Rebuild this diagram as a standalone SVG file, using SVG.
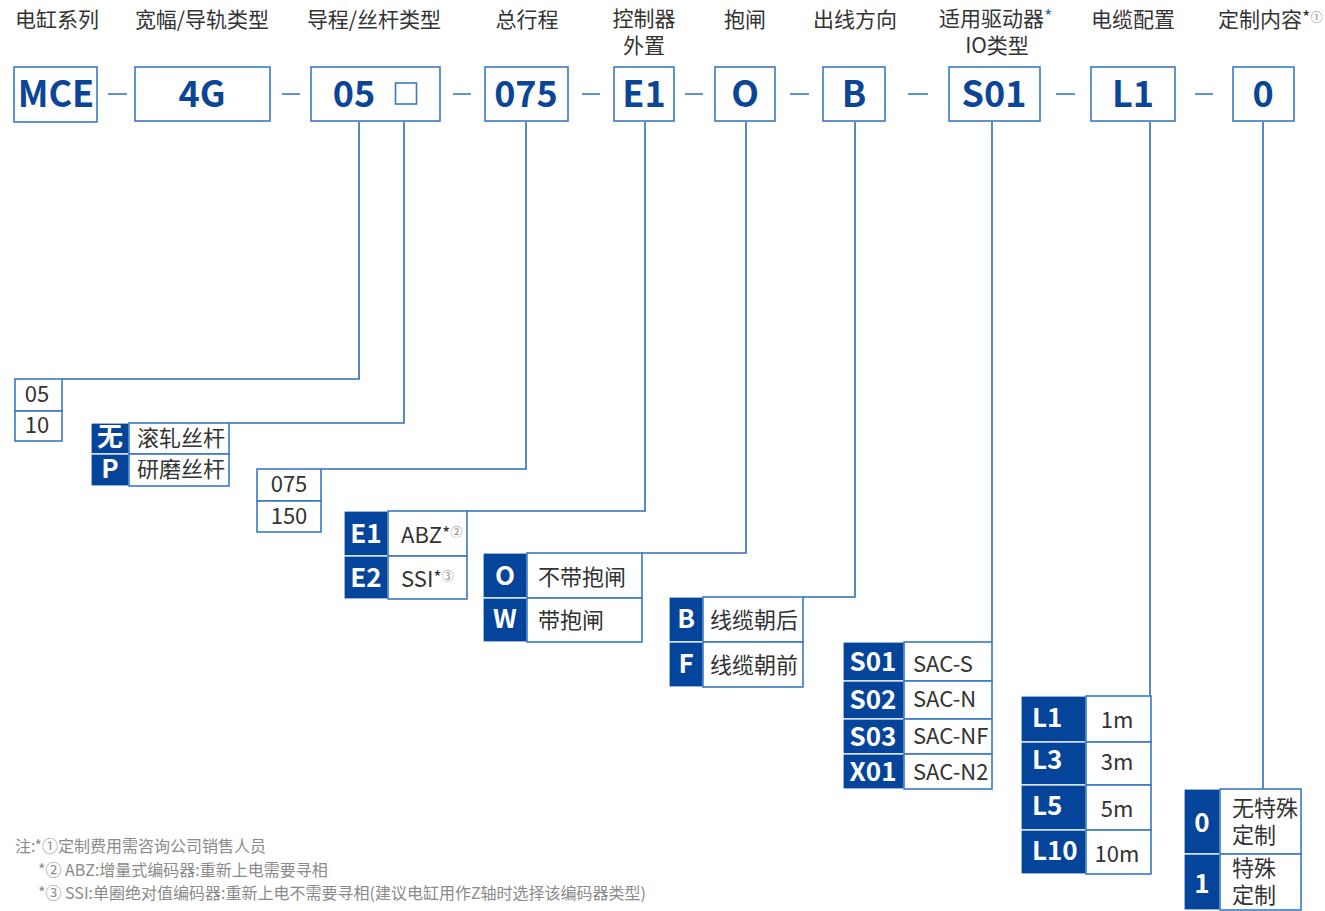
<svg xmlns="http://www.w3.org/2000/svg" width="1325" height="911" viewBox="0 0 1325 911">
<style>
text{font-family:"Noto Sans CJK SC","Noto Sans",sans-serif}
.hdr{font-size:21px;fill:#333;text-anchor:middle}
.box{fill:#fff;stroke:#3b78c6;stroke-width:1.6}
.code{font-size:36px;font-weight:700;fill:#0b4596;text-anchor:middle}
.dash{stroke:#3b78c6;stroke-width:1.6}
.conn{fill:none;stroke:#2f6cb8;stroke-width:1.6}
.cell{fill:#fff;stroke:#3b78c6;stroke-width:1.6}
.dk{fill:#04449a;stroke:#fff;stroke-width:1.2}
.dt{font-size:26px;font-weight:700;fill:#fff;text-anchor:middle}
.wt{font-size:22px;fill:#333}
.wc{font-size:22px;fill:#333;text-anchor:middle}
.sup{font-size:12px;fill:#888}
.star{font-size:18px;fill:#333}
.note{font-size:16px;fill:#8a8a8a}
</style>
<rect width="1325" height="911" fill="#fff"/>

<g id="headers">
<text class="hdr" x="57" y="27">电缸系列</text>
<text class="hdr" x="202" y="27">宽幅/导轨类型</text>
<text class="hdr" x="374" y="27">导程/丝杆类型</text>
<text class="hdr" x="527" y="27">总行程</text>
<text class="hdr" x="644" y="26">控制器</text>
<text class="hdr" x="644" y="53">外置</text>
<text class="hdr" x="745" y="27">抱闸</text>
<text class="hdr" x="855" y="27">出线方向</text>
<text class="hdr" x="939" y="26" style="text-anchor:start">适用驱动器<tspan fill="#2f6cb8" font-size="18" dy="-3">*</tspan></text>
<text class="hdr" x="997" y="53">IO类型</text>
<text class="hdr" x="1133" y="27">电缆配置</text>
<text class="hdr" x="1218" y="27" style="text-anchor:start">定制内容<tspan font-size="18" dy="-3">*</tspan><tspan class="sup" font-size="11" dy="-2">①</tspan></text>
</g>

<g id="dashes">
<line class="dash" x1="108" y1="94" x2="127" y2="94"/>
<line class="dash" x1="282" y1="94" x2="300" y2="94"/>
<line class="dash" x1="453" y1="94" x2="471" y2="94"/>
<line class="dash" x1="582" y1="94" x2="600" y2="94"/>
<line class="dash" x1="685" y1="94" x2="703" y2="94"/>
<line class="dash" x1="790" y1="94" x2="809" y2="94"/>
<line class="dash" x1="908" y1="94" x2="928" y2="94"/>
<line class="dash" x1="1056" y1="94" x2="1075" y2="94"/>
<line class="dash" x1="1195" y1="94" x2="1213" y2="94"/>
</g>

<g id="connectors">
<path class="conn" d="M359 122V379H62"/>
<path class="conn" d="M404 122V423H229"/>
<path class="conn" d="M526 122V469H321"/>
<path class="conn" d="M645 122V511H467"/>
<path class="conn" d="M746 122V553H642"/>
<path class="conn" d="M855 122V597H803"/>
<path class="conn" d="M992 122V642"/>
<path class="conn" d="M1150 122V696"/>
<path class="conn" d="M1263 122V789"/>
</g>

<g id="n-mce"><rect class="box" x="14" y="67" width="83" height="55"/><text class="code" x="56" y="107">MCE</text></g>
<g id="n-4g"><rect class="box" x="135" y="67" width="135" height="54"/><text class="code" x="202" y="107">4G</text></g>
<g id="n-05"><rect class="box" x="311" y="67" width="129" height="54"/><text class="code" x="354" y="107">05</text><rect x="395.5" y="83" width="21" height="21" fill="none" stroke="#3b78c6" stroke-width="1.6"/></g>
<g id="n-075"><rect class="box" x="485" y="67" width="83" height="54"/><text class="code" x="526" y="107">075</text></g>
<g id="n-e1"><rect class="box" x="614" y="67" width="60" height="54"/><text class="code" x="644" y="107">E1</text></g>
<g id="n-o"><rect class="box" x="715" y="67" width="60" height="54"/><text class="code" x="745" y="107">O</text></g>
<g id="n-b"><rect class="box" x="823" y="67" width="62" height="54"/><text class="code" x="854" y="107">B</text></g>
<g id="n-s01"><rect class="box" x="949" y="67" width="91" height="54"/><text class="code" x="994" y="107">S01</text></g>
<g id="n-l1"><rect class="box" x="1091" y="67" width="84" height="54"/><text class="code" x="1133" y="107">L1</text></g>
<g id="n-0"><rect class="box" x="1233" y="67" width="61" height="54"/><text class="code" x="1263" y="107">0</text></g>

<g id="t-lead">
<rect class="cell" x="15" y="379" width="47" height="32"/>
<rect class="cell" x="15" y="411" width="47" height="30"/>
<text class="wc" x="37" y="402">05</text>
<text class="wc" x="37" y="433">10</text>
</g>

<g id="t-screw">
<rect class="dk" x="91" y="423" width="38" height="31"/>
<rect class="dk" x="91" y="454" width="38" height="32"/>
<rect class="cell" x="129" y="423" width="100" height="31"/>
<rect class="cell" x="129" y="454" width="100" height="32"/>
<text class="dt" x="110" y="446" font-size="21">无</text>
<text class="dt" x="110" y="478" font-size="23">P</text>
<text class="wt" x="137" y="446" font-size="21">滚轧丝杆</text>
<text class="wt" x="137" y="477" font-size="21">研磨丝杆</text>
</g>

<g id="t-stroke">
<rect class="cell" x="257" y="469" width="64" height="32"/>
<rect class="cell" x="257" y="501" width="64" height="31"/>
<text class="wc" x="289" y="492">075</text>
<text class="wc" x="289" y="524">150</text>
</g>

<g id="t-ctrl">
<rect class="dk" x="344" y="511" width="44" height="45"/>
<rect class="dk" x="344" y="556" width="44" height="43"/>
<rect class="cell" x="388" y="511" width="79" height="45"/>
<rect class="cell" x="388" y="556" width="79" height="43"/>
<text class="dt" x="366" y="543">E1</text>
<text class="dt" x="366" y="587">E2</text>
<text class="wt" x="401" y="543">ABZ<tspan class="star" dy="-3">*</tspan><tspan class="sup" dy="-3">②</tspan></text>
<text class="wt" x="401" y="587">SSI<tspan class="star" dy="-3">*</tspan><tspan class="sup" dy="-3">③</tspan></text>
</g>

<g id="t-brake">
<rect class="dk" x="483" y="553" width="44" height="45"/>
<rect class="dk" x="483" y="598" width="44" height="44"/>
<rect class="cell" x="527" y="553" width="115" height="45"/>
<rect class="cell" x="527" y="598" width="115" height="44"/>
<text class="dt" x="505" y="585">O</text>
<text class="dt" x="505" y="628">W</text>
<text class="wt" x="538" y="585" font-size="21">不带抱闸</text>
<text class="wt" x="538" y="628" font-size="21">带抱闸</text>
</g>

<g id="t-dir">
<rect class="dk" x="669" y="597" width="34" height="45"/>
<rect class="dk" x="669" y="642" width="34" height="45"/>
<rect class="cell" x="703" y="597" width="100" height="45"/>
<rect class="cell" x="703" y="642" width="100" height="45"/>
<text class="dt" x="686" y="628">B</text>
<text class="dt" x="686" y="673">F</text>
<text class="wt" x="710" y="628" font-size="21">线缆朝后</text>
<text class="wt" x="710" y="673" font-size="21">线缆朝前</text>
</g>

<g id="t-io">
<rect class="dk" x="843" y="642" width="61" height="39"/>
<rect class="dk" x="843" y="681" width="61" height="38"/>
<rect class="dk" x="843" y="719" width="61" height="35"/>
<rect class="dk" x="843" y="754" width="61" height="35"/>
<rect class="cell" x="904" y="642" width="88" height="39"/>
<rect class="cell" x="904" y="681" width="88" height="38"/>
<rect class="cell" x="904" y="719" width="88" height="35"/>
<rect class="cell" x="904" y="754" width="88" height="35"/>
<text class="dt" x="873" y="671">S01</text>
<text class="dt" x="873" y="709">S02</text>
<text class="dt" x="873" y="746">S03</text>
<text class="dt" x="873" y="781">X01</text>
<text class="wt" x="913" y="672">SAC-S</text>
<text class="wt" x="913" y="707">SAC-N</text>
<text class="wt" x="913" y="744">SAC-NF</text>
<text class="wt" x="913" y="780">SAC-N2</text>
</g>

<g id="t-cable">
<rect class="dk" x="1021" y="696" width="65" height="46"/>
<rect class="dk" x="1021" y="742" width="65" height="43"/>
<rect class="dk" x="1021" y="785" width="65" height="45"/>
<rect class="dk" x="1021" y="830" width="65" height="44"/>
<rect class="cell" x="1086" y="696" width="65" height="46"/>
<rect class="cell" x="1086" y="742" width="65" height="43"/>
<rect class="cell" x="1086" y="785" width="65" height="45"/>
<rect class="cell" x="1086" y="830" width="65" height="44"/>
<text class="dt" x="1032" y="727" style="text-anchor:start">L1</text>
<text class="dt" x="1032" y="769" style="text-anchor:start">L3</text>
<text class="dt" x="1032" y="815" style="text-anchor:start">L5</text>
<text class="dt" x="1032" y="860" style="text-anchor:start">L10</text>
<text class="wc" x="1117" y="728">1m</text>
<text class="wc" x="1117" y="770">3m</text>
<text class="wc" x="1117" y="817">5m</text>
<text class="wc" x="1117" y="862">10m</text>
</g>

<g id="t-custom">
<rect class="dk" x="1184" y="789" width="36" height="65"/>
<rect class="dk" x="1184" y="854" width="36" height="56"/>
<rect class="cell" x="1220" y="789" width="81" height="65"/>
<rect class="cell" x="1220" y="854" width="81" height="56"/>
<text class="dt" x="1202" y="832">0</text>
<text class="dt" x="1202" y="893">1</text>
<text class="wt" x="1232" y="816" font-size="20">无特殊</text>
<text class="wt" x="1232" y="843" font-size="20">定制</text>
<text class="wt" x="1232" y="876" font-size="20">特殊</text>
<text class="wt" x="1232" y="903" font-size="20">定制</text>
</g>

<g id="notes">
<text class="note" x="15" y="852">注:*①定制费用需咨询公司销售人员</text>
<text class="note" x="38" y="876">*② ABZ:增量式编码器:重新上电需要寻相</text>
<text class="note" x="38" y="899">*③ SSI:单圈绝对值编码器:重新上电不需要寻相(建议电缸用作Z轴时选择该编码器类型)</text>
</g>
</svg>
